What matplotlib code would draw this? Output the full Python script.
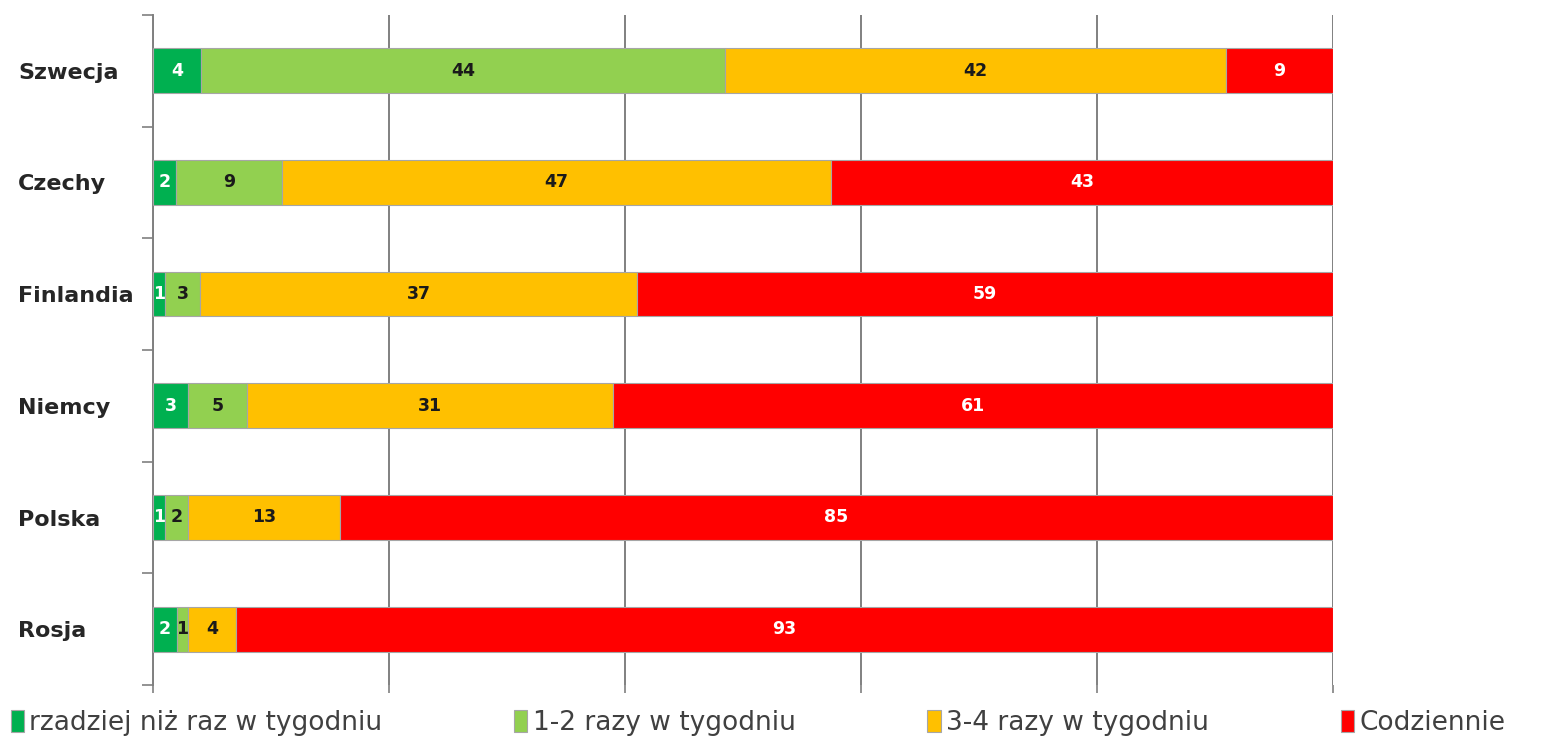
import matplotlib.pyplot as plt
import numpy as np

countries = ["Szwecja", "Czechy", "Finlandia", "Niemcy", "Polska", "Rosja"]
series = ["rzadziej niż raz w tygodniu", "1-2 razy w tygodniu",
          "3-4 razy w tygodniu", "Codziennie"]
rzadziej = [4, 2, 1, 3, 1, 2]
raz_dwa = [44, 9, 3, 5, 2, 1]
trzy_cztery = [42, 47, 37, 31, 13, 4]
codziennie = [9, 43, 59, 61, 85, 93]

colors = ["#00B050", "#92D050", "#FFC000", "#FF0000"]
text_colors = ["white", "#1a1a1a", "#1a1a1a", "white"]

values = np.array([rzadziej, raz_dwa, trzy_cztery, codziennie], dtype=float)
shares = values / values.sum(axis=0) * 100

fig = plt.figure(figsize=(15.66, 7.47), dpi=100)
ax = fig.add_axes([153 / 1566, 1 - 685 / 747, (1333 - 153) / 1566, 670 / 747])

y = np.arange(len(countries))[::-1]
left = np.zeros(len(countries))
for i, name in enumerate(series):
    ax.barh(y, shares[i], left=left, height=0.4, color=colors[i],
            edgecolor="#A6A6A6", linewidth=0.8, label=name, zorder=3)
    for j in range(len(countries)):
        ax.text(left[j] + shares[i][j] / 2, y[j], str(int(values[i][j])),
                ha="center", va="center", fontsize=12.5, fontweight="bold",
                color=text_colors[i], zorder=4)
    left += shares[i]

ax.set_xlim(0, 100)
ax.set_ylim(-0.5, len(countries) - 0.5)
ax.set_xticks(np.arange(0, 101, 20))
ax.set_xticklabels([])
ax.tick_params(axis="x", length=6, color="#808080", width=1.2)
ax.grid(axis="x", color="#808080", linewidth=1.4, zorder=0)

ax.set_yticks(y)
ax.set_yticklabels(countries, fontsize=16, fontweight="bold", color="#262626")
for lab in ax.get_yticklabels():
    lab.set_ha("left")
ax.tick_params(axis="y", length=0, pad=97)
ax.set_yticks(np.arange(-0.5, len(countries), 1), minor=True)
ax.tick_params(axis="y", which="minor", length=8, color="#808080", width=1.2)

for s in ["top", "right", "bottom"]:
    ax.spines[s].set_visible(False)
ax.spines["left"].set_color("#808080")
ax.spines["left"].set_linewidth(1.4)

fig.legend(loc="lower left", bbox_to_anchor=(-0.005, -0.01), ncol=4, frameon=False,
           fontsize=19, handlelength=0.5, handleheight=0.9, handletextpad=0.2,
           columnspacing=5.0, labelcolor="#404040", borderaxespad=0.3)

fig.savefig("out.png", dpi=100)
